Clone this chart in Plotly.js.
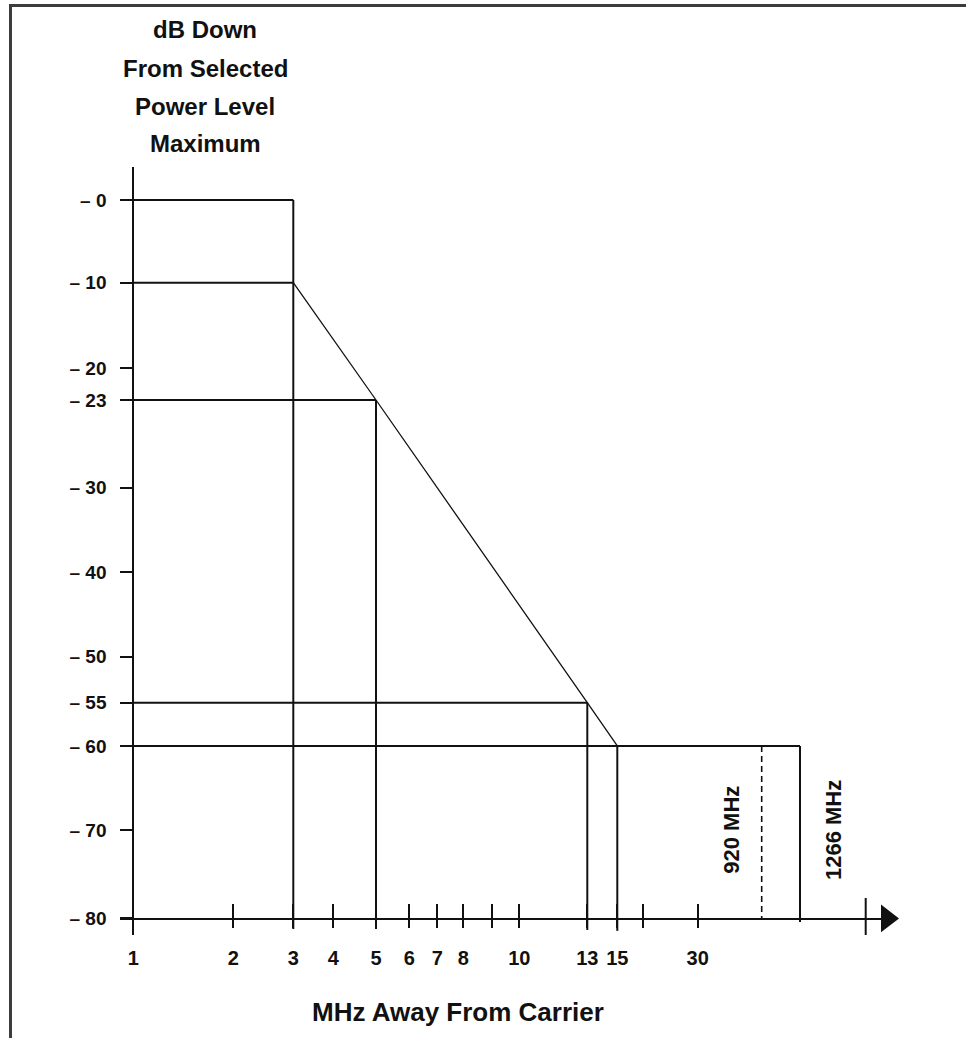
<!DOCTYPE html>
<html>
<head>
<meta charset="utf-8">
<script src="https://cdn.plot.ly/plotly-3.0.1.min.js"></script>
<style>
  html, body { margin: 0; padding: 0; background: #fff; }
  #chart { width: 966px; height: 1038px; }
  #frame { position: absolute; left: 9px; top: 4px; width: 960px; height: 1040px;
           border-top: 3px solid #3c3c3c; border-left: 3px solid #3c3c3c; pointer-events: none; }
</style>
</head>
<body>
<div id="chart"></div>
<div id="frame"></div>
<script>
// ---------------- DATA ----------------
// Emission mask (dB down from selected power level maximum vs MHz away from carrier)
const maskMHz = [3, 5, 13, 15];
const maskDb  = [-10, -23, -55, -60];

// Horizontal reference levels and the frequency where each ends
const levelDb     = [0, -10, -23, -55, -60];
const levelEndMHz = [3, 3, 5, 13, 1266];

// Vertical frequency markers: frequency, top level, bottom level
const markerMHz      = [3, 5, 13, 15, 1266];
const markerTopDb    = [0, -23, -55, -60, -60];
const markerBottomDb = [-81.2, -81.2, -81.3, -81.4, -80.4];

// Dashed marker
const dashedMHz = [920];
const dashedTopDb = [-60];
const dashedBottomDb = [-80];

// Band labels
const bandLabelMHz = [920, 1266];
const bandLabelText = ['920 MHz', '1266 MHz'];

// Axis ticks
const yTickDb   = [0, -10, -20, -23, -30, -40, -50, -55, -60, -70, -80];
const yTickText = ['– 0', '– 10', '– 20', '– 23', '– 30', '– 40', '– 50', '– 55', '– 60', '– 70', '– 80'];
const xTickMHz  = [1, 2, 3, 4, 5, 6, 7, 8, 9, 10, 13, 15, 20, 30];
const xTickText = ['1', '2', '3', '4', '5', '6', '7', '8', '', '10', '13', '15', '', '30'];

const yTitleLines = ['dB Down', 'From Selected', 'Power Level', 'Maximum'];
const xTitle = 'MHz Away From Carrier';

// ---------------- DRAWN (NOT-TO-SCALE) AXIS SCALES ----------------
// The original figure uses hand-placed, non-uniform axes; these anchor
// tables reproduce that drawn scale (value -> axis drawing units).
const xScaleMHz  = [1, 2, 3, 4, 5, 6, 7, 8, 9, 10, 13, 15, 20, 30, 920, 1266];
const xScaleUnit = [0, 1.00, 1.60, 2.00, 2.427, 2.76, 3.04, 3.30, 3.584, 3.86, 4.54, 4.84, 5.10, 5.644, 6.284, 6.667];
const yScaleDb   = [0, -10, -20, -23, -30, -40, -50, -55, -60, -70, -80];
const yScaleUnit = [0, -9.208, -18.74, -22.27, -32.03, -41.42, -50.85, -55.97, -60.79, -70.15, -80];

function interp(v, xs, ys) {
  const n = xs.length;
  let i = 0;
  const asc = xs[n - 1] > xs[0];
  if (asc) { while (i < n - 2 && v > xs[i + 1]) i++; }
  else     { while (i < n - 2 && v < xs[i + 1]) i++; }
  const t = (v - xs[i]) / (xs[i + 1] - xs[i]);
  return ys[i] + t * (ys[i + 1] - ys[i]);
}
const xU = v => interp(v, xScaleMHz, xScaleUnit);
const yU = v => interp(v, yScaleDb, yScaleUnit);

// axis decoration (range, end tick, arrow head) in drawing units
const xRange = [-0.133, 7.617];
const yRange = [-81.84, 3.674];
const xEndTickUnit = 7.324;
const xArrowUnit = 7.537;

const INK = '#111111';
const FONT = 'Liberation Sans, Arial, Helvetica, sans-serif';

// ---------------- TRACES ----------------
const hx = [], hy = [];
levelDb.forEach((d, i) => {
  hx.push(xU(1), xU(levelEndMHz[i]), null);
  hy.push(yU(d), yU(d), null);
});
const vx = [], vy = [];
markerMHz.forEach((m, i) => {
  vx.push(xU(m), xU(m), null);
  vy.push(yU(markerTopDb[i]), yU(markerBottomDb[i]), null);
});
const dx = [], dy = [];
dashedMHz.forEach((m, i) => {
  dx.push(xU(m), xU(m), null);
  dy.push(yU(dashedTopDb[i]), yU(dashedBottomDb[i]), null);
});

const traces = [
  { type: 'scatter', mode: 'lines', x: hx, y: hy, line: { color: INK, width: 2 }, hoverinfo: 'skip', showlegend: false },
  { type: 'scatter', mode: 'lines', x: vx, y: vy, line: { color: INK, width: 2 }, hoverinfo: 'skip', showlegend: false },
  { type: 'scatter', mode: 'lines', x: maskMHz.map(xU), y: maskDb.map(yU), line: { color: INK, width: 1.3 }, hoverinfo: 'skip', showlegend: false },
  { type: 'scatter', mode: 'lines', x: dx, y: dy, line: { color: INK, width: 1.6, dash: '6px,4px' }, hoverinfo: 'skip', showlegend: false },
  { type: 'scatter', mode: 'markers', x: [xArrowUnit], y: [yU(-80)], xaxis: 'x2', cliponaxis: false,
    marker: { symbol: 'triangle-right', size: 24, color: INK, line: { width: 0 } }, hoverinfo: 'skip', showlegend: false }
];

// ---------------- LAYOUT ----------------
const L = 120, R = 71, T = 167, B = 103;
const plotW = 966 - L - R, plotH = 1038 - T - B;
const xAxisPos = (935 - 918.5) / plotH;
const yAxisPos = (133.3 - L) / plotW;

const annotations = [];
const titleY = [30, 68, 106, 143];
yTitleLines.forEach((t, i) => {
  annotations.push({
    text: t, xref: 'paper', yref: 'paper',
    x: (205 - L) / plotW, y: (1038 - B - titleY[i]) / plotH,
    xanchor: 'center', yanchor: 'middle', showarrow: false,
    font: { family: FONT, size: 24, color: INK, weight: 'bold' }
  });
});
annotations.push({
  text: xTitle, xref: 'paper', yref: 'paper',
  x: (458 - L) / plotW, y: (1038 - B - 1012) / plotH,
  xanchor: 'center', yanchor: 'middle', showarrow: false,
  font: { family: FONT, size: 26, color: INK, weight: 'bold' }
});
const bandShift = [-31, 33];
bandLabelMHz.forEach((m, i) => {
  annotations.push({
    text: bandLabelText[i], xref: 'x', yref: 'y',
    x: xU(m), y: yU(-70), xshift: bandShift[i], textangle: -90,
    xanchor: 'center', yanchor: 'middle', showarrow: false,
    font: { family: FONT, size: 22, color: INK, weight: 'bold' }
  });
});

const layout = {
  width: 966, height: 1038,
  margin: { l: L, r: R, t: T, b: B, pad: 0 },
  paper_bgcolor: '#ffffff', plot_bgcolor: 'rgba(0,0,0,0)',
  showlegend: false,
  font: { family: FONT, color: INK },
  xaxis: {
    range: xRange, anchor: 'free', position: xAxisPos,
    showgrid: false, zeroline: false,
    showline: true, linecolor: INK, linewidth: 2,
    tickmode: 'array', tickvals: xTickMHz.map(xU), ticktext: xTickText,
    ticks: 'outside', ticklen: 8, tickwidth: 2, tickcolor: INK,
    ticklabelstandoff: 13,
    tickfont: { family: FONT, size: 20, color: INK, weight: 'bold' }
  },
  xaxis2: {
    range: xRange, overlaying: 'x', anchor: 'free', position: xAxisPos,
    showgrid: false, zeroline: false, showline: false,
    tickmode: 'array', tickvals: xTickMHz.map(xU),
    ticks: 'inside', ticklen: 15, tickwidth: 2, tickcolor: INK,
    showticklabels: false
  },
  yaxis: {
    range: yRange, anchor: 'free', position: yAxisPos,
    showgrid: false, zeroline: false,
    showline: true, linecolor: INK, linewidth: 2,
    tickmode: 'array', tickvals: yTickDb.map(yU), ticktext: yTickText,
    ticks: 'outside', ticklen: 12, tickwidth: 2, tickcolor: INK,
    ticklabelstandoff: 10,
    tickfont: { family: FONT, size: 19, color: INK, weight: 'bold' }
  },
  shapes: [
    { type: 'line', xref: 'x', yref: 'y', x0: xEndTickUnit, x1: xEndTickUnit,
      y0: yU(-80) + 2.28, y1: yRange[0], line: { color: INK, width: 2 } }
  ],
  annotations: annotations
};

Plotly.newPlot('chart', traces, layout, { staticPlot: true, displayModeBar: false });
</script>
</body>
</html>
